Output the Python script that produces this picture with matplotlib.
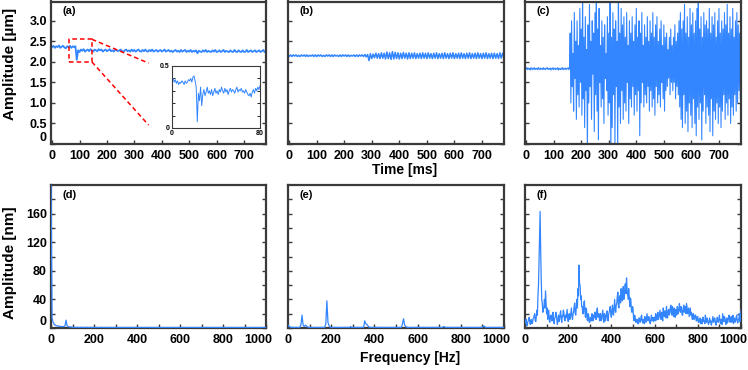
import numpy as np
import matplotlib
matplotlib.use("Agg")
import matplotlib.pyplot as plt
import matplotlib.transforms as mtransforms

plt.rcParams['font.family'] = ['Liberation Sans', 'DejaVu Sans']
plt.rcParams['font.weight'] = 'bold'

# ---------------- data ----------------
time_ms = np.arange(0, 781, 5)
time_c_ms = np.arange(0, 780.1, 2.5)

amp_a = [2.36, 2.39, 2.34, 2.38, 2.36, 2.40, 2.34, 2.37, 2.39, 2.35, 2.33, 2.38, 2.36, 2.39, 2.34, 2.38, 2.36, 2.38,
         2.05,
         2.28, 2.24, 2.30, 2.27, 2.31, 2.25, 2.28, 2.30, 2.26, 2.31,
         2.28, 2.25, 2.30, 2.28, 2.26, 2.31, 2.28, 2.30, 2.25, 2.28,
         2.30, 2.26, 2.28, 2.31, 2.26, 2.28, 2.25, 2.30, 2.28, 2.26,
         2.28, 2.30, 2.26, 2.25, 2.28, 2.30, 2.26, 2.28, 2.25, 2.30,
         2.26, 2.29, 2.25, 2.28, 2.30, 2.26, 2.25, 2.29, 2.26, 2.30,
         2.26, 2.25, 2.29, 2.26, 2.30, 2.25, 2.27, 2.29, 2.25, 2.27,
         2.29, 2.25, 2.27, 2.30, 2.25, 2.27, 2.29, 2.25, 2.27, 2.24,
         2.27, 2.29, 2.25, 2.27, 2.24, 2.29, 2.25, 2.27, 2.29, 2.24,
         2.27, 2.25, 2.29, 2.24, 2.27, 2.25, 2.28, 2.21, 2.27, 2.25,
         2.24, 2.28, 2.25, 2.29, 2.24, 2.27, 2.25, 2.24, 2.28, 2.25,
         2.29, 2.24, 2.25, 2.28, 2.24, 2.26, 2.29, 2.24, 2.27, 2.25,
         2.24, 2.28, 2.25, 2.24, 2.29, 2.25, 2.24, 2.28, 2.25, 2.24,
         2.28, 2.24, 2.25, 2.29, 2.24, 2.26, 2.28, 2.24, 2.26, 2.28,
         2.24, 2.26, 2.28, 2.24, 2.26, 2.29, 2.24, 2.26]

amp_b = [2.13, 2.17, 2.13, 2.17, 2.14, 2.17, 2.13, 2.16, 2.13, 2.17,
         2.14, 2.17, 2.13, 2.17, 2.13, 2.16, 2.14, 2.17, 2.13, 2.17,
         2.13, 2.17, 2.14, 2.17, 2.13, 2.16, 2.13, 2.17, 2.14, 2.17,
         2.13, 2.17, 2.13, 2.17, 2.14, 2.16, 2.13, 2.17, 2.13, 2.17,
         2.14, 2.17, 2.13, 2.17, 2.13, 2.16, 2.14, 2.17, 2.13, 2.17,
         2.13, 2.17, 2.14, 2.17, 2.13, 2.18, 2.12, 2.18,
         2.03,
         2.20, 2.08, 2.19, 2.10, 2.21, 2.09, 2.20, 2.08, 2.22, 2.09,
         2.21, 2.07, 2.24, 2.08, 2.22, 2.06, 2.25, 2.07, 2.23, 2.08,
         2.22, 2.07, 2.21, 2.08, 2.23, 2.09, 2.21, 2.07, 2.22, 2.08,
         2.21, 2.09, 2.22, 2.08, 2.20, 2.09, 2.21, 2.08, 2.22, 2.09,
         2.21, 2.08, 2.22, 2.09, 2.20, 2.08, 2.21, 2.09, 2.22, 2.08,
         2.20, 2.09, 2.21, 2.08, 2.22, 2.09, 2.20, 2.08, 2.21, 2.09,
         2.22, 2.08, 2.20, 2.09, 2.21, 2.08, 2.22, 2.09, 2.20, 2.08,
         2.21, 2.09, 2.22, 2.08, 2.20, 2.09, 2.21, 2.08, 2.22, 2.09,
         2.20, 2.08, 2.21, 2.09, 2.22, 2.08, 2.20, 2.09, 2.21, 2.08,
         2.21, 2.09, 2.20, 2.08, 2.22, 2.09, 2.21, 2.10]

amp_c = [1.83, 1.86, 1.81, 1.85, 1.82, 1.84, 1.80, 1.86, 1.83, 1.81,
         1.85, 1.82, 1.86, 1.81, 1.84, 1.82, 1.85, 1.81, 1.86, 1.83,
         1.81, 1.85, 1.82, 1.84, 1.81, 1.86, 1.82, 1.84, 1.81, 1.85,
         1.83, 1.86, 1.81, 1.84, 1.82, 1.85, 1.80, 1.84, 1.82, 1.86,
         1.81, 1.83, 1.85, 1.81, 1.84, 1.82, 1.86, 1.80, 1.84, 1.83,
         1.81, 1.85, 1.82, 1.86, 1.81, 1.84, 1.82, 1.85, 1.81, 1.84,
         1.83, 1.86, 1.81, 1.84,
         2.7, 1.0, 3.0, 1.4, 2.2, 0.8, 3.2, 1.6, 2.5, 0.6,
         3.0, 1.2, 2.4, 0.9, 3.3, 1.5, 2.8, 0.7, 3.7, 1.1,
         2.6, 0.4, 3.1, 1.3, 2.3, -0.2, 2.9, 1.0, 3.4, 1.4,
         2.5, 0.6, 3.0, 1.7, 2.7, 0.3, 3.2, 1.2, 3.8, 0.8,
         2.8, 0.1, 3.3, 1.5, 2.4, 0.9, 3.0, 1.1, 2.6, 0.5,
         2.9, 1.6, 2.2, 1.3, 3.1, 0.7, 2.7, 1.0, 3.9, -0.3,
         2.6, 0.4, 3.2, 1.2, 2.8, 0.0, 3.0, 1.4, 2.5, -0.2,
         3.8, 0.9, 2.7, 0.5, 3.3, 1.3, 2.9, 0.6, 3.1, 1.0,
         2.6, 0.8, 3.2, 1.5, 2.4, 0.5, 3.0, 1.1, 2.7, 0.9,
         3.1, 1.4, 2.5, 0.7, 2.9, 1.2, 3.3, 0.8, 2.6, 1.3,
         3.0, 0.2, 2.7, 1.0, 3.2, 1.5, 2.4, 0.9, 2.9, 1.2,
         2.6, 1.0, 3.1, 1.4, 2.5, 0.8, 3.0, 1.3, 2.7, 0.9,
         3.2, 1.1, 2.6, 0.7, 2.9, 1.4, 3.1, 1.0, 2.5, 1.2,
         2.8, 0.9, 3.0, 1.5, 2.4, 1.1, 2.9, 0.8, 2.6, 1.3,
         2.7, 1.4, 2.3, 1.6, 2.6, 1.2, 2.8, 1.5, 2.4, 1.3,
         2.6, 1.5, 2.9, 1.1, 2.5, 1.4, 2.7, 1.2, 3.0, 0.9,
         3.2, 0.6, 2.8, 0.4, 3.0, 1.2, 3.4, 0.5, 2.7, 0.8,
         3.1, 0.3, 2.6, 1.0, 3.3, 0.7, 2.9, 0.4, 3.2, 1.1,
         2.7, 0.5, 3.0, 0.2, 3.3, 0.9, 3.8, 0.6, 2.8, 1.0,
         3.1, 0.1, 2.6, 0.8, 3.2, 1.2, 2.9, 0.5, 3.0, 0.9,
         2.8, 0.7, 3.3, 0.3, 2.7, 1.1, 3.1, 0.2, 2.9, 0.8,
         3.2, 0.6, 2.6, 1.0, 3.0, 0.5, 3.3, 0.9, 2.7, 0.4,
         3.0, 0.8, 2.8, 1.2, 3.2, 0.6, 2.9, 1.0, 3.4, 0.7,
         2.7, 1.1, 3.1, 0.5, 2.8, 0.9, 3.3, 0.7, 2.6, 1.2,
         3.0, 0.8, 3.2, 1.0, 2.9, 1.3, 2.7, 1.1, 2.8]

inset_t = np.arange(0, 81, 1)
inset_amp = [0.38, 0.40, 0.37, 0.39, 0.36, 0.38, 0.35, 0.37, 0.36, 0.38,
             0.37, 0.35, 0.38, 0.36, 0.37, 0.39, 0.38, 0.40, 0.37, 0.41,
             0.42, 0.38, 0.33, 0.05, 0.28, 0.22, 0.33, 0.18, 0.27, 0.31,
             0.26, 0.29, 0.33, 0.28, 0.30, 0.27, 0.31, 0.26, 0.29, 0.32,
             0.28, 0.30, 0.27, 0.31, 0.29, 0.33, 0.30, 0.28, 0.32, 0.29,
             0.31, 0.27, 0.30, 0.32, 0.29, 0.31, 0.30, 0.28, 0.31, 0.33,
             0.29, 0.31, 0.30, 0.32, 0.29, 0.30, 0.28, 0.31, 0.29, 0.27,
             0.26, 0.28, 0.25, 0.29, 0.31, 0.28, 0.32, 0.30, 0.33, 0.31, 0.34]

freq_hz = np.arange(0, 1001, 5)
freq_f_hz = np.arange(0, 1000.1, 2.5)

spec_d = [210, 14, 8, 5, 4, 3, 3, 2.5, 2.5, 2, 2, 2, 2, 3, 11, 3, 2, 1.5, 1.5, 1.2,
          1.0, 0.8, 1.1, 0.7, 0.9, 1.0, 0.6, 0.8, 1.0, 0.7,
          0.9, 0.6, 0.8, 1.0, 0.7, 0.6, 0.9, 0.8, 0.6, 0.7,
          0.8, 0.6, 0.9, 0.7, 0.6, 0.8, 0.7, 0.9, 0.6, 0.7,
          0.8, 0.6, 0.7, 0.9, 0.6, 0.7, 0.8, 0.6, 0.7, 0.8,
          0.6, 0.7, 0.9, 0.6, 0.8, 0.7, 0.6, 0.8, 0.7, 0.6,
          0.7, 0.8, 0.6, 0.7, 0.9, 0.6, 0.7, 0.8, 0.6, 0.7,
          0.8, 0.6, 0.7, 0.6, 0.8, 0.7, 0.6, 0.7, 0.8, 0.6,
          0.7, 0.6, 0.8, 0.7, 0.6, 0.7, 0.8, 0.6, 0.7, 0.6,
          0.8, 0.6, 0.7, 0.6, 0.8, 0.7, 0.6, 0.7, 0.6, 0.8,
          0.6, 0.7, 0.6, 0.8, 0.7, 0.6, 0.7, 0.6, 0.8, 0.6,
          0.7, 0.6, 0.7, 0.8, 0.6, 0.7, 0.6, 0.7, 0.8, 0.6,
          0.7, 0.6, 0.7, 0.6, 0.8, 0.6, 0.7, 0.6, 0.7, 0.8,
          0.6, 0.7, 0.6, 0.7, 0.6, 0.8, 0.6, 0.7, 0.6, 0.7,
          0.8, 0.6, 0.7, 0.6, 0.7, 0.6, 0.8, 0.6, 0.7, 0.6,
          0.7, 0.6, 0.8, 0.6, 0.7, 0.6, 0.7, 0.6, 0.8, 0.6,
          0.7, 0.6, 0.7, 0.6, 0.8, 0.6, 0.7, 0.6, 0.7, 0.6,
          0.8, 0.6, 0.7, 0.6, 0.7, 0.6, 0.8, 0.6, 0.7, 0.6,
          0.7, 0.6, 0.8, 0.6, 0.7, 0.6, 0.7, 0.8, 0.6, 0.7, 0.7]

spec_e = [4, 2, 1.2, 1.0, 0.8, 0.9, 0.7, 0.8, 0.9, 0.7,
          0.8, 0.9, 5, 18, 4, 2, 4, 3, 1.5, 1.0,
          0.8, 0.9, 0.7, 0.8, 0.9, 0.7, 0.8, 0.9, 0.8, 0.7,
          0.8, 0.9, 0.7, 0.8, 0.9, 6, 38, 8, 3, 1.2,
          0.9, 0.8, 0.7, 0.9, 0.8, 0.7, 0.9, 0.8, 0.7, 0.9,
          0.8, 0.7, 0.9, 0.8, 0.7, 0.9, 0.8, 0.7, 2, 0.9,
          0.8, 0.7, 0.9, 0.8, 0.7, 0.9, 0.8, 0.7, 0.9, 0.8,
          0.7, 10, 6, 5, 3, 1.2, 0.9, 0.8, 0.7, 0.9,
          0.8, 0.7, 0.9, 0.8, 0.7, 0.9, 0.8, 0.7, 0.9, 0.8,
          0.7, 0.9, 0.8, 0.7, 0.9, 0.8, 0.7, 0.9, 0.8, 0.7,
          0.9, 0.8, 0.7, 0.9, 0.8, 0.7, 6, 13, 4, 2,
          1.0, 0.8, 0.7, 0.9, 0.8, 0.7, 0.9, 0.8, 0.7, 0.9,
          0.8, 0.7, 0.9, 0.8, 0.7, 0.9, 0.8, 0.7, 0.9, 0.8,
          0.7, 0.9, 0.8, 0.7, 0.9, 0.8, 0.7, 0.9, 0.8, 0.7,
          0.9, 0.8, 0.7, 0.9, 2, 1.5, 0.8, 0.7, 0.9, 0.8,
          0.7, 0.9, 0.8, 0.7, 0.9, 0.8, 0.7, 0.9, 0.8, 0.7,
          0.9, 0.8, 0.7, 0.9, 0.8, 0.7, 0.9, 0.8, 0.7, 0.9,
          0.8, 0.7, 0.9, 0.8, 0.7, 0.9, 0.8, 0.7, 0.9, 0.8,
          0.7, 3, 2, 0.9, 0.8, 0.7, 0.9, 0.8, 0.7, 0.9,
          0.8, 0.7, 0.9, 0.8, 0.7, 0.9, 0.8, 0.7, 0.9, 0.8, 0.8]

spec_f = [6, 10, 12, 5, 3, 8, 10, 14, 15, 7, 5, 11, 12, 6, 8, 13, 14, 18, 20, 10,
          9, 16, 25, 18, 45, 60, 93, 120, 163, 110, 70, 40, 35, 22, 25, 30, 40, 28, 52, 35,
          20, 28, 12, 18, 25, 10, 8, 16, 18, 12, 10, 20, 22, 9, 6, 14, 15, 22, 20, 11,
          5, 12, 18, 9, 12, 20, 24, 14, 8, 17, 16, 25, 22, 12, 10, 18, 14, 20, 26, 15,
          9, 18, 20, 12, 15, 22, 28, 16, 12, 20, 22, 30, 35, 20, 18, 30, 40, 28, 55, 45,
          88, 62, 60, 40, 45, 30, 30, 20, 20, 35, 38, 22, 15, 28, 25, 12, 10, 20, 18, 8,
          8, 14, 15, 10, 20, 12, 10, 18, 14, 22, 22, 12, 12, 24, 28, 15, 16, 20, 10, 14,
          20, 10, 12, 18, 25, 14, 8, 20, 18, 10, 14, 22, 24, 12, 10, 20, 22, 28, 30, 18,
          15, 25, 32, 20, 18, 30, 40, 25, 22, 32, 35, 45, 50, 30, 28, 45, 45, 35, 55, 40,
          38, 52, 58, 40, 42, 60, 62, 48, 70, 55, 48, 40, 55, 45, 30, 42, 40, 25, 22, 30,
          28, 14, 10, 18, 15, 8, 8, 12, 12, 6, 6, 14, 14, 8, 9, 16, 18, 10, 7, 12,
          12, 6, 16, 10, 8, 14, 20, 12, 10, 16, 14, 8, 6, 12, 18, 10, 12, 15, 9, 14,
          15, 10, 20, 14, 11, 18, 22, 12, 14, 20, 25, 16, 12, 22, 18, 10, 28, 20, 16, 24,
          22, 14, 30, 20, 14, 24, 26, 18, 20, 28, 32, 22, 18, 30, 24, 16, 28, 20, 15, 26,
          25, 18, 30, 22, 20, 28, 34, 24, 22, 30, 28, 18, 18, 26, 32, 22, 26, 30, 20, 34,
          30, 20, 24, 28, 16, 22, 28, 18, 22, 16, 12, 20, 20, 12, 14, 18, 18, 10, 10, 16,
          16, 8, 8, 12, 14, 6, 12, 10, 6, 14, 15, 9, 10, 6, 18, 12, 8, 14, 12, 7,
          5, 10, 14, 8, 10, 4, 7, 12, 16, 8, 9, 14, 12, 5, 4, 10, 15, 9, 8, 13,
          18, 10, 6, 12, 12, 5, 20, 14, 9, 16, 15, 8, 5, 12, 14, 7, 10, 16, 18, 9,
          8, 14, 16, 8, 12, 18, 6, 10, 14, 8, 10, 15, 18, 10, 7, 12, 12, 20, 9, 14,
          25]

panel_labels = ['(a)', '(b)', '(c)', '(d)', '(e)', '(f)']
time_ticks = [0, 100, 200, 300, 400, 500, 600, 700]
amp_um_ticks = [0, 0.5, 1.0, 1.5, 2.0, 2.5, 3.0]
amp_um_labels = ['0', '0.5', '1.0', '1.5', '2.0', '2.5', '3.0']
freq_ticks = [0, 200, 400, 600, 800, 1000]
amp_nm_ticks = [0, 40, 80, 120, 160]

# ---------------- figure ----------------
W, H = 748, 370
fig = plt.figure(figsize=(W / 100, H / 100), dpi=100)

LINE = '#3386ff'
SPINE = '#3a3a3a'

def px_axes(l, t, r, b):
    return fig.add_axes([l / W, 1 - b / H, (r - l) / W, (b - t) / H])

cols = [(51, 266), (288, 504), (525, 741)]
top = (1.5, 144)
bot = (185, 328)

def style(ax):
    for s in ax.spines.values():
        s.set_color(SPINE)
        s.set_linewidth(1.6)
    ax.tick_params(direction='in', length=3, width=1, color=SPINE,
                   right=True, labelsize=9, pad=3)
    ax.tick_params(axis='x', pad=4)

axes_top = [px_axes(c[0], top[0], c[1], top[1]) for c in cols]
axes_bot = [px_axes(c[0], bot[0], c[1], bot[1]) for c in cols]

top_series = [(time_ms, amp_a, 1.3), (time_ms, amp_b, 1.1), (time_c_ms, amp_c, 0.8)]
for ax, (x, y, lw) in zip(axes_top, top_series):
    ax.plot(x, y, color=LINE, lw=lw)
    ax.set_xlim(-4, 780)
    ax.set_ylim(0, 3.47)
    ax.set_xticks(time_ticks)
    ax.set_yticks(amp_um_ticks)
    style(ax)

axes_top[0].set_yticklabels(amp_um_labels)
axes_top[0].get_yticklabels()[0].set_va('bottom')
for ax in axes_top[1:]:
    ax.set_yticklabels([])

bot_series = [(freq_hz, spec_d), (freq_hz, spec_e), (freq_f_hz, spec_f)]
shift = mtransforms.ScaledTranslation(-8 / 100, 0, fig.dpi_scale_trans)
for ax, (x, y) in zip(axes_bot, bot_series):
    ax.plot(x, y, color=LINE, lw=0.9, zorder=3)
    ax.set_xlim(0, 1000)
    ax.set_ylim(0, 200)
    ax.set_xticks(np.arange(0, 1001, 100))
    ax.set_xticklabels([str(v) if v in freq_ticks else '' for v in range(0, 1001, 100)])
    ax.set_yticks(np.arange(0, 200, 20))
    style(ax)
    last = ax.get_xticklabels()[-1]
    last.set_transform(last.get_transform() + shift)

axes_bot[0].set_yticklabels([str(v) if v in amp_nm_ticks else '' for v in range(0, 200, 20)])
axes_bot[0].get_yticklabels()[0].set_va('bottom')
for ax in axes_bot[1:]:
    ax.set_yticklabels([])

for ax, lab in zip(axes_top + axes_bot, panel_labels):
    ax.text(0.055, 0.93, lab, transform=ax.transAxes, fontsize=8,
            fontweight='bold', va='center', ha='left', zorder=5)

# zoom box and connecting lines in (a)
axa = axes_top[0]
box_x = [60, 145, 145, 60, 60]
box_y = [2.0, 2.0, 2.55, 2.55, 2.0]
axa.plot(box_x, box_y, color='red', ls=(0, (3, 2)), lw=1.1)
axa.plot([145, 352], [2.55, 1.97], color='red', ls=(0, (3, 2)), lw=1.1)
axa.plot([145, 352], [2.0, 0.46], color='red', ls=(0, (3, 2)), lw=1.1)

# inset
axi = px_axes(172, 66, 260, 128)
axi.plot(inset_t, inset_amp, color=LINE, lw=0.7)
axi.set_xlim(0, 80)
axi.set_ylim(0, 0.5)
axi.set_xticks([0, 80])
axi.set_xticklabels(['0', '80'])
axi.set_yticks([0, 0.1, 0.2, 0.3, 0.4, 0.5])
axi.set_yticklabels(['0', '', '', '', '', '0.5'])
for s in axi.spines.values():
    s.set_color(SPINE)
    s.set_linewidth(0.8)
axi.tick_params(direction='in', length=2, width=0.6, right=True,
                labelsize=5, pad=1.5)

fig.text(10 / W, 1 - 64 / H, 'Amplitude [µm]', rotation=90, fontsize=11,
         fontweight='bold', ha='center', va='center')
fig.text(10 / W, 1 - 263 / H, 'Amplitude [nm]', rotation=90, fontsize=11,
         fontweight='bold', ha='center', va='center')
fig.text(405 / W, 1 - 170 / H, 'Time [ms]', fontsize=10,
         fontweight='bold', ha='center', va='center')
fig.text(410 / W, 1 - 358 / H, 'Frequency [Hz]', fontsize=10,
         fontweight='bold', ha='center', va='center')

fig.savefig('out.png', dpi=100)
